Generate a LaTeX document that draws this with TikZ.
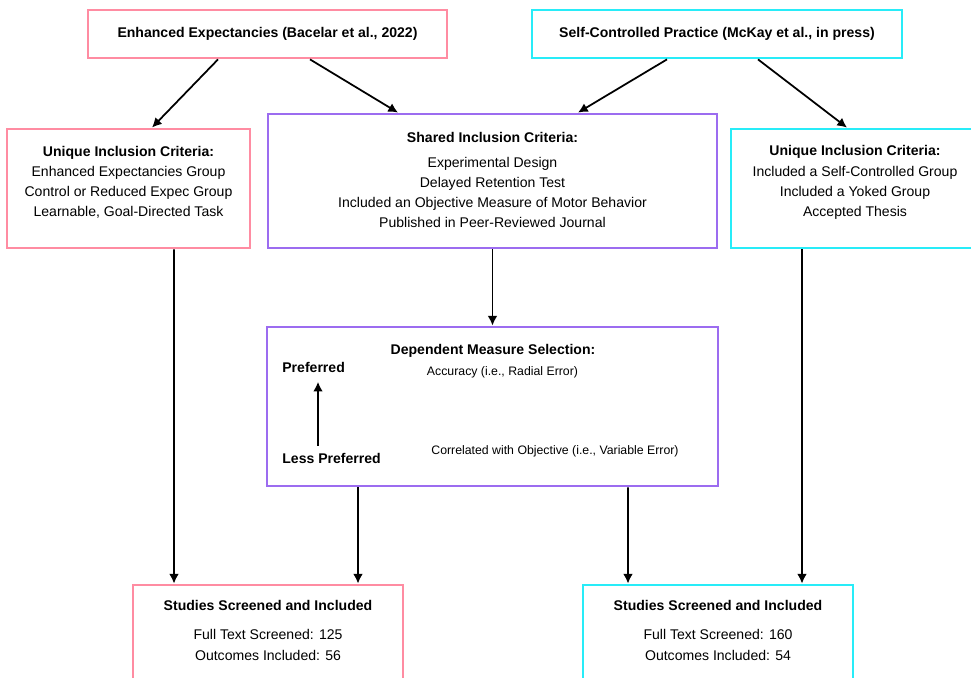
\documentclass[tikz,border=0pt]{standalone}
\usepackage{fontspec}
\setmainfont{Liberation Sans}
\usetikzlibrary{calc, arrows.meta}

\definecolor{pinkline}{RGB}{255,140,162}
\definecolor{cyanline}{RGB}{40,236,248}
\definecolor{purpleline}{RGB}{156,108,240}

\begin{document}
\begin{tikzpicture}[x=0.02cm, y=-0.02cm,
    box/.style n args={3}{draw=#1, line width=1.6pt, minimum width=#2, minimum height=#3, inner sep=0pt},
    txt/.style={align=center, font=\fontsize{8}{11.5}\selectfont, inner sep=0pt},
    small/.style={align=center, font=\fontsize{7}{9}\selectfont, inner sep=0pt},
    arr/.style={line width=1pt, -{Latex[length=5.5pt, width=5.5pt]}}]
    \useasboundingbox (+0.0, +0.0) rectangle (+971.0, +678.0);

    % === Top row ===
    % Enhanced expectancies
    \node[box={pinkline}{7.18cm}{0.96cm}, txt] (enh) at (+267.5, +34.0)
    {\bfseries Enhanced Expectancies (Bacelar et al., 2022)};

    % Self-controlled practice
    \node[box={cyanline}{7.40cm}{0.96cm}, txt] (self) at (+717.0, +34.0)
    {\bfseries Self-Controlled Practice (McKay et al., in press)};

    % === Inclusion criteria ===
    % Unique, left
    \node[box={pinkline}{4.86cm}{2.38cm}] (uniqL) at (+128.5, +188.5) {};
    \node[txt] (uniqLtext) at (+128.5, +182.5) {\textbf{Unique Inclusion Criteria:}\\
    Enhanced Expectancies Group\\Control or Reduced Expec Group\\Learnable, Goal-Directed Task};

    % Shared
    \node[box={purpleline}{8.98cm}{2.68cm}] (shared) at (+492.5, +181.0) {};
    \node[txt] (sharedtext) at (+492.5, +180.0) {\textbf{Shared Inclusion Criteria:}\\[2.5pt]
    Experimental Design\\Delayed Retention Test\\Included an Objective Measure of Motor Behavior\\
    Published in Peer-Reviewed Journal};

    % Unique, right
    \node[box={cyanline}{4.96cm}{2.38cm}] (uniqR) at (+855.0, +188.5) {};
    \node[txt] (uniqRtext) at (+855.0, +182.5) {\textbf{Unique Inclusion Criteria:}\\
    Included a Self-Controlled Group\\Included a Yoked Group\\Accepted Thesis};

    % === Dependent measure ===
    \node[box={purpleline}{9.02cm}{3.18cm}] (dep) at (+492.5, +406.5) {};
    \node[txt] (deptitle) at (+493.0, +351.0) {\textbf{Dependent Measure Selection:}};
    \node[small] (acc) at (+502.5, +372.0) {Accuracy (i.e., Radial Error)};
    \node[small] (corr) at (+555.0, +451.0) {Correlated with Objective (i.e., Variable Error)};
    \node[txt, anchor=west] (pref) at (+282.0, +367.5) {\textbf{Preferred}};
    \node[txt, anchor=west] (less) at (+282.0, +458.0) {\textbf{Less Preferred}};
    \coordinate (prefx) at (+318.0, +0.0);
    \draw[arr, shorten <=3.8pt, shorten >=5pt] (less.north -| prefx) -- (pref.south -| prefx);

    % === Bottom row ===
    % Screened, left
    \node[box={pinkline}{5.40cm}{2.30cm}] (scrL) at (+268.0, +642.5) {};
    \node[txt] (scrLtitle) at (+268.0, +605.0) {\textbf{Studies Screened and Included}};
    \node[txt] (scrLtext) at (+268.0, +645.0) {Full Text Screened: 125\\Outcomes Included: 56};

    % Screened, right
    \node[box={cyanline}{5.40cm}{2.30cm}] (scrR) at (+718.0, +642.5) {};
    \node[txt] (scrRtitle) at (+718.0, +605.0) {\textbf{Studies Screened and Included}};
    \node[txt] (scrRtext) at (+718.0, +645.0) {Full Text Screened: 160\\Outcomes Included: 54};

    % === Connectors ===
    \draw[arr] ($(enh.south)+(-49.5,0)$) -- ($(uniqL.north)+(23.5,0)$);
    \draw[arr] ($(enh.south)+(42.5,0)$) -- ($(shared.north)+(-94.5,0)$);
    \draw[arr] ($(self.south)+(-50,0)$) -- ($(shared.north)+(85.5,0)$);
    \draw[arr] ($(self.south)+(41,0)$) -- ($(uniqR.north)+(-8,0)$);
    \draw[arr] ($(uniqL.south)+(45.5,0)$) -- ($(scrL.north)+(-94,0)$);
    \draw[arr] (shared.south) -- (dep.north);
    \draw[arr] ($(dep.south)+(-134.5,0)$) -- ($(scrL.north)+(90,0)$);
    \draw[arr] ($(dep.south)+(135.5,0)$) -- ($(scrR.north)+(-90,0)$);
    \draw[arr] ($(uniqR.south)+(-53,0)$) -- ($(scrR.north)+(84,0)$);
\end{tikzpicture}
\end{document}
